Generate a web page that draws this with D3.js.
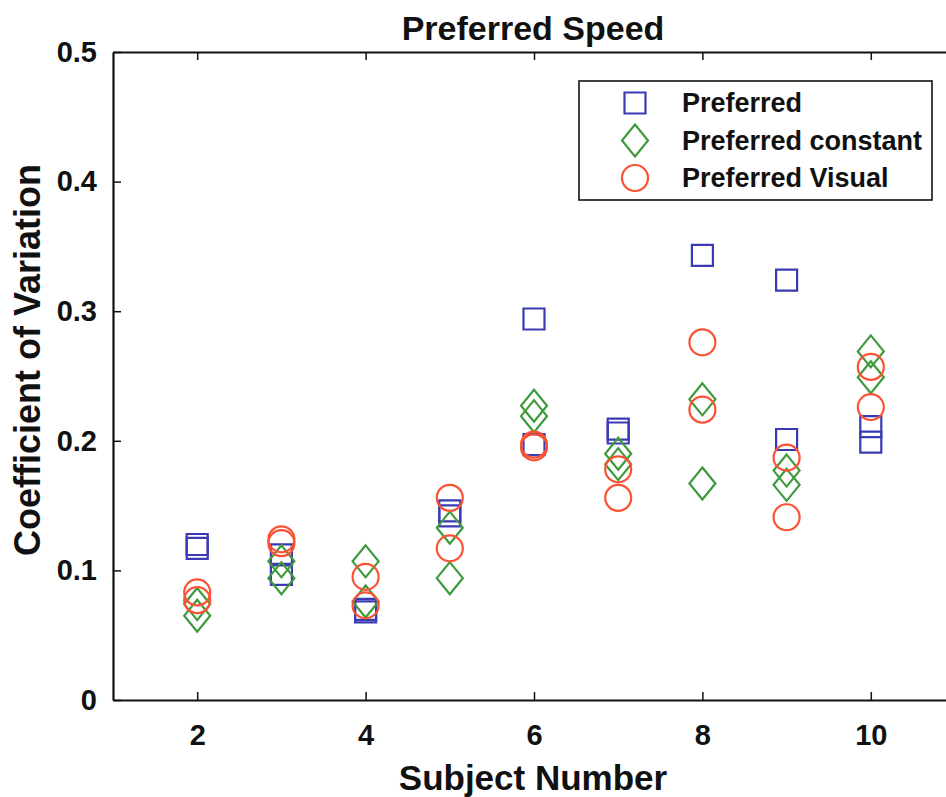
<!DOCTYPE html>
<html>
<head>
<meta charset="utf-8">
<script src="https://cdn.jsdelivr.net/npm/d3@7"></script>
<style>
  body { margin: 0; background: #fff; }
  text { font-family: "Liberation Sans", Arial, sans-serif; font-weight: bold; fill: #111; }
</style>
</head>
<body>
<svg id="chart" width="946" height="797"></svg>
<script>
// Coefficient of variation per subject, one or two trials each
const subjects = [2, 3, 4, 5, 6, 7, 8, 9, 10];
const preferred = [
  [0.120, 0.117], [0.112, 0.097], [0.070, 0.068], [0.146, 0.142], [0.294, 0.197],
  [0.209, 0.206], [0.343], [0.324, 0.201], [0.211, 0.199]
];
const preferredConstant = [
  [0.074, 0.065], [0.107, 0.094], [0.107, 0.076], [0.133, 0.094], [0.227, 0.219],
  [0.190, 0.182], [0.232, 0.167], [0.177, 0.166], [0.269, 0.249]
];
const preferredVisual = [
  [0.083, 0.077], [0.124, 0.121], [0.095, 0.073], [0.156, 0.117], [0.197, 0.195],
  [0.178, 0.156], [0.276, 0.224], [0.187, 0.141], [0.257, 0.226]
];
const seriesNames = ["Preferred", "Preferred constant", "Preferred Visual"];
const xTicks = [2, 4, 6, 8, 10];
const yTicks = [0, 0.1, 0.2, 0.3, 0.4, 0.5];

const svg = d3.select("#chart");
const plotLeft = 113, plotTop = 52, plotBottom = 700, plotRight = 955;

const x = d3.scaleLinear().domain([1, 11]).range([plotLeft, plotRight]);
const y = d3.scaleLinear().domain([0, 0.5]).range([plotBottom, plotTop]);

const colors = { square: "#3a3ab4", diamond: "#3f9a3c", circle: "#fb5234" };
const strokeW = 2.2;

// Marker shapes
const markerPath = {
  square: () => "M-10.5,-10.5H10.5V10.5H-10.5Z",
  diamond: () => "M0,-16L13,0L0,16L-13,0Z",
  circle: () => { const p = d3.path(); p.arc(0, 0, 13, 0, 2 * Math.PI); p.closePath(); return p.toString(); }
};

// Axes (ticks pointing inward)
const axisG = svg.append("g");
const xAxis = d3.axisBottom(x).tickValues(xTicks).tickFormat(d3.format("d"))
  .tickSizeInner(-8).tickSizeOuter(0).tickPadding(24);
const gx = axisG.append("g").attr("transform", `translate(0,${plotBottom})`).call(xAxis);
const xTop = d3.axisTop(x).tickValues(xTicks).tickFormat("")
  .tickSizeInner(-8).tickSizeOuter(0);
const gxt = axisG.append("g").attr("transform", `translate(0,${plotTop})`).call(xTop);
const yAxis = d3.axisLeft(y).tickValues(yTicks).tickFormat(d => d === 0 ? "0" : d3.format(".1f")(d))
  .tickSizeInner(-8).tickSizeOuter(0).tickPadding(16);
const gy = axisG.append("g").attr("transform", `translate(${plotLeft},0)`).call(yAxis);

[gx, gxt, gy].forEach(g => {
  g.select(".domain").attr("stroke", "#111").attr("stroke-width", 2.2);
  g.selectAll(".tick line").attr("stroke", "#111").attr("stroke-width", 1.5);
  g.selectAll(".tick text").style("font-size", "29px").style("font-family", "'Liberation Sans', Arial, sans-serif")
    .style("font-weight", "bold").attr("fill", "#111");
});

// Data points
const series = [
  { name: seriesNames[0], shape: "square", values: preferred },
  { name: seriesNames[1], shape: "diamond", values: preferredConstant },
  { name: seriesNames[2], shape: "circle", values: preferredVisual }
];

series.forEach(s => {
  const pts = [];
  subjects.forEach((sub, i) => s.values[i].forEach(v => pts.push({ sub, v })));
  svg.append("g").selectAll("path").data(pts).join("path")
    .attr("d", markerPath[s.shape]())
    .attr("transform", d => `translate(${x(d.sub)},${y(d.v)})`)
    .attr("fill", "none").attr("stroke", colors[s.shape]).attr("stroke-width", strokeW);
});

// Legend
const legend = svg.append("g");
legend.append("rect").attr("x", 579).attr("y", 81).attr("width", 353).attr("height", 119)
  .attr("fill", "#fff").attr("stroke", "#111").attr("stroke-width", 1.6);
series.forEach((s, i) => {
  const cy = 103 + i * 37.5;
  legend.append("path").attr("d", markerPath[s.shape]())
    .attr("transform", `translate(635,${cy})`)
    .attr("fill", "none").attr("stroke", colors[s.shape]).attr("stroke-width", strokeW);
  legend.append("text").attr("x", 682).attr("y", cy).attr("dy", "0.35em")
    .style("font-size", "27px").text(s.name);
});

// Titles
svg.append("text").attr("x", 533).attr("y", 40).attr("text-anchor", "middle")
  .style("font-size", "34px").text("Preferred Speed");
svg.append("text").attr("x", 533).attr("y", 790).attr("text-anchor", "middle")
  .style("font-size", "35px").text("Subject Number");
svg.append("text").attr("transform", "translate(40,360) rotate(-90)").attr("text-anchor", "middle")
  .style("font-size", "36px").text("Coefficient of Variation");
</script>
</body>
</html>
